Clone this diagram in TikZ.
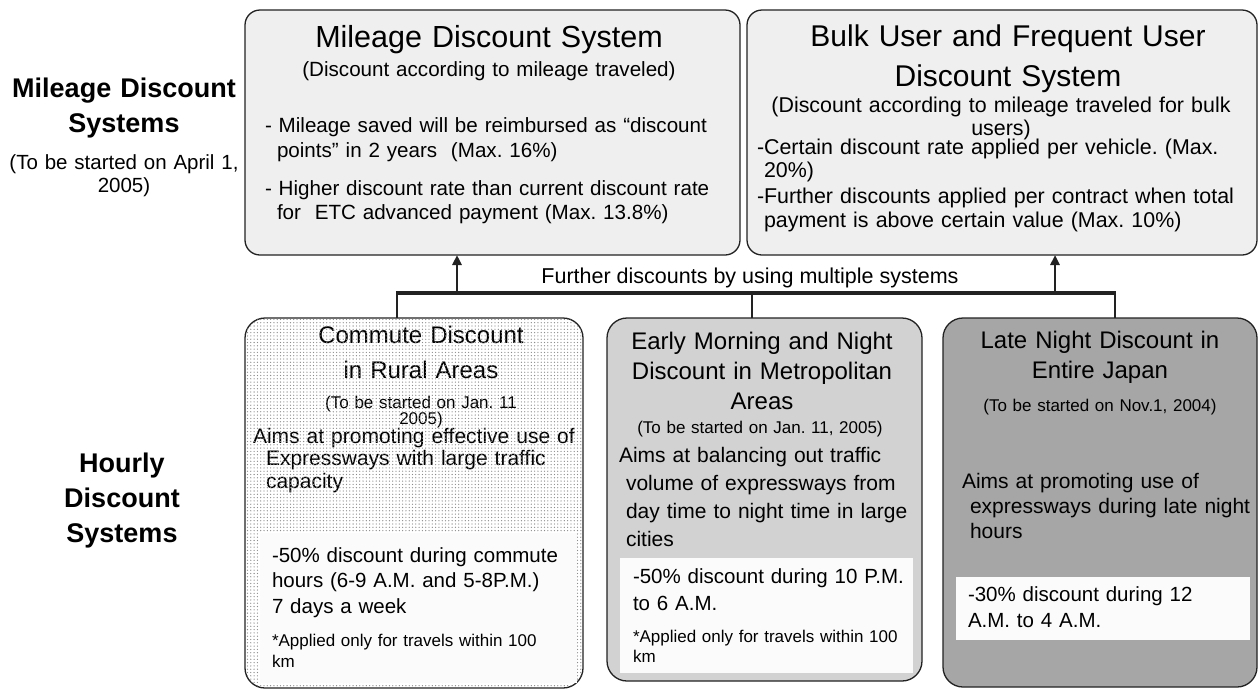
\documentclass[tikz,border=0pt]{standalone}
\usepackage{fontspec}
\setmainfont{Liberation Sans}
\usetikzlibrary{patterns,arrows.meta}
\definecolor{topfill}{HTML}{EFEFEF}
\definecolor{midfill}{HTML}{D2D2D2}
\definecolor{darkfill}{HTML}{A6A6A6}
\definecolor{innerfill}{HTML}{FBFBFB}
\definecolor{edgecol}{HTML}{222222}
\definecolor{dotcol}{HTML}{8A8A8A}
\newcommand{\myfs}[2]{\fontsize{#1}{#2}\selectfont}
\pgfdeclarepatternformonly{mydots}{\pgfqpoint{-1pt}{-1pt}}{\pgfqpoint{1pt}{1pt}}{\pgfqpoint{3.3pt}{3.3pt}}{%
  \pgfpathcircle{\pgfqpoint{0pt}{0pt}}{0.65pt}\pgfusepath{fill}}
\frenchspacing
\begin{document}
\begin{tikzpicture}[x=1pt,y=-1pt,
  panel/.style={draw=edgecol, line width=1.3pt, anchor=north west, inner sep=0pt, outer sep=0pt},
  toppanel/.style={panel, rounded corners=15pt, fill=topfill},
  lowpanel/.style={panel, rounded corners=20pt},
  inner/.style={fill=innerfill, draw=none, anchor=north west, inner sep=0pt, outer sep=0pt},
  txt/.style={inner sep=0pt, outer sep=0pt, text=black},
  ctxt/.style={txt, align=center, anchor=base, text width=#1},
  ltxt/.style={txt, align=left, anchor=base west, text width=#1},
  barline/.style={line width=4pt, edgecol},
  stemline/.style={line width=2.5pt, edgecol},
  uparrow/.style={line width=2.5pt, edgecol, -{Triangle[length=10pt,width=9pt]}}
]
\useasboundingbox (0,0) rectangle (1259,689);

% ---------- left labels ----------
\node[ctxt=240pt, font=\bfseries\myfs{27}{35}] (lab1) at (124,97) {Mileage Discount\\Systems};
\node[ctxt=240pt, font=\myfs{20.5}{23}] (lab1s) at (124,169) {(To be started on April 1,\\2005)};
\node[ctxt=240pt, font=\bfseries\myfs{27}{35}] (lab2) at (122,472) {Hourly\\Discount\\Systems};

% ---------- top panels ----------
\node[toppanel, minimum width=495pt, minimum height=245pt] (mds) at (245,10) {};
\node[toppanel, minimum width=510pt, minimum height=245pt] (bulk) at (747,10) {};

\node[ctxt=480pt, font=\myfs{30.5}{40}] (mdsT) at (489,47) {Mileage Discount System};
\node[ctxt=480pt, font=\myfs{20.6}{24}] (mdsS) at (489,76) {(Discount according to mileage traveled)};
\node[ltxt=470pt, font=\myfs{20.6}{25}] (mdsB1) at (265,132) {- Mileage saved will be reimbursed as “discount\\\hspace*{12pt}points” in 2 years~ (Max. 16\%)};
\node[ltxt=470pt, font=\myfs{20.6}{24}] (mdsB2) at (265,195) {- Higher discount rate than current discount rate\\\hspace*{12pt}for~ ETC advanced payment (Max. 13.8\%)};

\node[ctxt=500pt, font=\myfs{30}{40}] (bulkT) at (1008,46) {Bulk User and Frequent User\\Discount System};
\node[ctxt=500pt, font=\myfs{21.4}{23}] (bulkS) at (1001,112) {(Discount according to mileage traveled for bulk\\users)};
\node[ltxt=495pt, font=\myfs{21.4}{23}] (bulkB1) at (757,154) {-Certain discount rate applied per vehicle. (Max.\\\hspace*{7pt}20\%)};
\node[ltxt=495pt, font=\myfs{21.4}{24}] (bulkB2) at (757,203) {-Further discounts applied per contract when total\\\hspace*{7pt}payment is above certain value (Max. 10\%)};

% ---------- bottom panels ----------
\node[lowpanel, minimum width=338pt, minimum height=370pt, fill=white] (cd) at (245,318) {};
\node[lowpanel, minimum width=315pt, minimum height=363pt, fill=midfill] (em) at (607,318) {};
\node[lowpanel, minimum width=314pt, minimum height=369pt, fill=darkfill] (ln) at (943,318) {};

% commute (text first, dots drawn over it as in the reference)
\node[ctxt=330pt, font=\myfs{24}{35}] (cdT) at (421,343) {Commute Discount\\in Rural Areas};
\node[ctxt=330pt, font=\myfs{17}{15}] (cdS) at (421,408) {(To be started on Jan. 11\\2005)};
\node[ltxt=330pt, font=\myfs{21}{22.5}] (cdA) at (253,443) {Aims at promoting effective use of\\\hspace*{13pt}Expressways with large traffic\\\hspace*{13pt}capacity};
\node[anchor=north west, inner sep=0pt, outer sep=0pt, rounded corners=20pt, minimum width=338pt, minimum height=370pt, pattern=mydots, pattern color=dotcol] (cdP) at (245,318) {};

\node[inner, minimum width=317pt, minimum height=150pt] (cdW) at (260,533) {};
\node[inner, minimum width=293pt, minimum height=115pt] (emW) at (620,558) {};
\node[inner, minimum width=294pt, minimum height=63pt] (lnW) at (956,577) {};

\node[ltxt=310pt, font=\myfs{20.5}{25.5}] (cdD) at (272,562) {-50\% discount during commute\\hours (6-9 A.M. and 5-8P.M.)\\7 days a week};
\node[ltxt=310pt, font=\myfs{17}{21}] (cdN) at (272,646) {*Applied only for travels within 100\\km};

% metropolitan
\node[ctxt=310pt, font=\myfs{24}{30}] (emT) at (762,349) {Early Morning and Night\\Discount in Metropolitan\\Areas};
\node[ctxt=310pt, font=\myfs{17}{20}] (emS) at (760,433) {(To be started on Jan. 11, 2005)};
\node[ltxt=300pt, font=\myfs{21}{28}] (emA) at (619,462) {Aims at balancing out traffic\\\hspace*{7pt}volume of expressways from\\\hspace*{7pt}day time to night time in large\\\hspace*{7pt}cities};
\node[ltxt=290pt, font=\myfs{20.5}{27}] (emD) at (633,583) {-50\% discount during 10 P.M.\\to 6 A.M.};
\node[ltxt=290pt, font=\myfs{17}{20}] (emN) at (633,642) {*Applied only for travels within 100\\km};

% late night
\node[ctxt=310pt, font=\myfs{24}{30}] (lnT) at (1100,348) {Late Night Discount in\\Entire Japan};
\node[ctxt=310pt, font=\myfs{17}{20}] (lnS) at (1100,411) {(To be started on Nov.1, 2004)};
\node[ltxt=295pt, font=\myfs{21}{25}] (lnA) at (962,488) {Aims at promoting use of\\\hspace*{8pt}expressways during late night\\\hspace*{8pt}hours};
\node[ltxt=285pt, font=\myfs{20.5}{26}] (lnD) at (968,601) {-30\% discount during 12\\A.M. to 4 A.M.};

% ---------- connectors ----------
\coordinate (jl) at (397,293);
\coordinate (jm) at (752,293);
\coordinate (jr) at (1115,293);
\coordinate (a1) at (457,293);
\coordinate (a2) at (1055,293);
\draw[barline] ([xshift=-1.25pt]jl) -- ([xshift=1.25pt]jr);
\draw[stemline] (jl) -- (jl |- cd.north);
\draw[stemline] (jm) -- (jm |- em.north);
\draw[stemline] (jr) -- (jr |- ln.north);
\draw[uparrow] (a1) -- (a1 |- mds.south);
\draw[uparrow] (a2) -- (a2 |- bulk.south);
\node[txt, anchor=base, font=\myfs{21.5}{26}] (fd) at (750,283) {Further discounts by using multiple systems};
\end{tikzpicture}
\end{document}
